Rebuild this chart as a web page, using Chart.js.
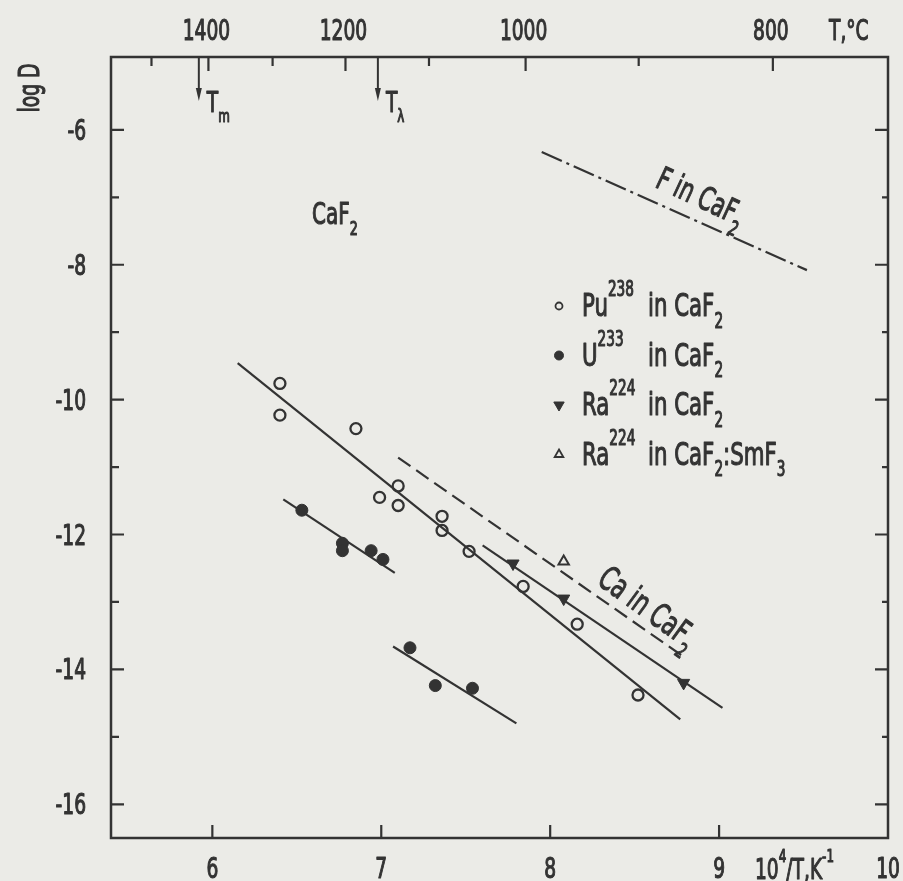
<!DOCTYPE html>
<html>
<head>
<meta charset="utf-8">
<title>Diffusion in CaF2</title>
<script src="https://cdn.jsdelivr.net/npm/chart.js@4.4.0/dist/chart.umd.min.js"></script>
<style>
  html, body { margin: 0; padding: 0; background: #ebebe7; }
  #wrap { width: 903px; height: 881px; }
</style>
</head>
<body>
<div id="wrap"><canvas id="chartLog" width="903" height="881"></canvas></div>
<script>
// x = 10^4/T (K^-1), y = log D
var puX = [6.40, 6.40, 6.85, 7.10, 6.99, 7.10, 7.36, 7.36, 7.52, 7.84, 8.16, 8.52];
var puY = [-9.76, -10.23, -10.43, -11.28, -11.45, -11.57, -11.73, -11.94, -12.25, -12.77, -13.33, -14.38];
var uX = [6.53, 6.77, 6.77, 6.94, 7.01, 7.17, 7.32, 7.54];
var uY = [-11.64, -12.13, -12.24, -12.24, -12.37, -13.68, -14.24, -14.28];
var raX = [7.78, 8.08, 8.79];
var raY = [-12.43, -12.95, -14.20];
var smX = [8.08];
var smY = [-12.40];

// straight lines drawn through the data (end points)
var puFitX = [6.15, 8.77], puFitY = [-9.46, -14.74];
var uHighX = [6.42, 7.08], uHighY = [-11.48, -12.57];
var uLowX = [7.07, 7.80], uLowY = [-13.66, -14.80];
var raFitX = [7.60, 9.02], raFitY = [-12.16, -14.57];
var caFitX = [7.10, 8.80], caFitY = [-10.86, -13.83];
var fFitX = [7.95, 9.52], fFitY = [-6.33, -8.08];

var xTicks = [6, 7, 8, 9, 10];
var yTicks = [-6, -8, -10, -12, -14, -16];
var tempLabels = [1400, 1200, 1000, 800];   // T in deg C, top axis
var tempMinor = [1500, 1300, 1100, 900];
var tMelt = 5.92, tLambda = 6.98;

var ink = '#333333';
var paper = '#ebebe7';
var FONT = '"DejaVu Sans Condensed", "DejaVu Sans", sans-serif';
var SQUEEZE = 0.74;   // the lettering is a narrow DIN face

function pts(xs, ys) {
  return xs.map(function (x, i) { return { x: x, y: ys[i] }; });
}
function fitLine(xs, ys, dash) {
  return { data: pts(xs, ys), showLine: true, borderColor: ink, borderWidth: 2.2,
           borderDash: dash || [], pointRadius: 0, fill: false };
}
function toK(c) { return 1e4 / (c + 273.15); }

// text with sub/superscripts: parts = [[text, 'sup'|'sub'|undefined], ...]
function richWidth(c, parts, size) {
  var w = 0;
  parts.forEach(function (p) {
    c.font = (p[1] ? size * 0.64 : size) + 'px ' + FONT;
    w += c.measureText(p[0]).width;
  });
  return w * SQUEEZE;
}
function rich(c, parts, x, y, size, align) {
  var w = richWidth(c, parts, size);
  var x0 = align === 'center' ? x - w / 2 : (align === 'right' ? x - w : x);
  c.save();
  c.translate(x0, y);
  c.scale(SQUEEZE, 1);
  c.textAlign = 'left';
  c.textBaseline = 'alphabetic';
  c.strokeStyle = c.fillStyle;
  c.lineWidth = 1.1;
  c.lineJoin = 'round';
  var cx = 0;
  parts.forEach(function (p) {
    var s = p[1] ? size * 0.64 : size;
    var dy = p[1] === 'sup' ? -size * 0.62 : (p[1] === 'sub' ? size * 0.36 : 0);
    c.font = s + 'px ' + FONT;
    c.fillText(p[0], cx, dy);
    c.strokeText(p[0], cx, dy);
    cx += c.measureText(p[0]).width;
  });
  c.restore();
}

var decor = {
  id: 'decor',
  beforeDraw: function (chart) {
    var c = chart.ctx;
    c.save();
    c.fillStyle = paper;
    c.fillRect(0, 0, chart.width, chart.height);
    c.restore();
  },
  afterDraw: function (chart) {
    var c = chart.ctx, a = chart.chartArea;
    var sx = chart.scales.x, sy = chart.scales.y, st = chart.scales.xTop;
    c.save();
    c.strokeStyle = ink;
    c.fillStyle = ink;
    c.lineWidth = 2.5;
    c.strokeRect(a.left, a.top, a.right - a.left, a.bottom - a.top);

    // inward tick marks
    c.lineWidth = 2.2;
    c.beginPath();
    sx.ticks.forEach(function (t) {
      if (t.value >= 10) return;
      var px = sx.getPixelForValue(t.value);
      c.moveTo(px, a.bottom); c.lineTo(px, a.bottom - 13);
    });
    st.ticks.forEach(function (t) {
      var px = st.getPixelForValue(t.value);
      c.moveTo(px, a.top); c.lineTo(px, a.top + 14);
    });
    tempMinor.forEach(function (t) {
      var px = st.getPixelForValue(toK(t));
      c.moveTo(px, a.top); c.lineTo(px, a.top + 9);
    });
    for (var v = -16; v <= -6; v++) {
      var py = sy.getPixelForValue(v);
      var major = v % 2 === 0;
      c.moveTo(a.left, py); c.lineTo(a.left + (major ? 13 : 8), py);
      c.moveTo(a.right, py); c.lineTo(a.right - (major ? 13 : 6), py);
    }
    c.stroke();

    // tick labels, placed from the scales
    sx.ticks.forEach(function (t) {
      rich(c, [[String(t.value)]], sx.getPixelForValue(t.value), a.bottom + 40, 28, 'center');
    });
    st.ticks.forEach(function (t) {
      rich(c, [[String(Math.round(1e4 / t.value - 273.15))]], st.getPixelForValue(t.value) - 2, a.top - 17, 28, 'center');
    });
    sy.ticks.forEach(function (t) {
      rich(c, [[String(t.value)]], a.left - 25, sy.getPixelForValue(t.value) + 10, 28, 'right');
    });

    // T_m and T_lambda arrows
    c.lineWidth = 2;
    [[tMelt, 'm'], [tLambda, '\u03bb']].forEach(function (m) {
      var px = st.getPixelForValue(m[0]);
      c.beginPath();
      c.moveTo(px, a.top); c.lineTo(px, a.top + 34);
      c.stroke();
      c.beginPath();
      c.moveTo(px - 3, a.top + 31); c.lineTo(px + 3, a.top + 31); c.lineTo(px, a.top + 44);
      c.closePath();
      c.fill();
      rich(c, [['T'], [m[1], 'sub']], px + 8, a.top + 55, 28);
    });

    // axis captions
    rich(c, [['T,\u00b0C']], 829, 40, 28);
    rich(c, [['10'], ['4', 'sup'], ['/T,K'], ['-1', 'sup']], 755, 879, 28);
    c.save();
    c.translate(39, 88);
    c.rotate(-Math.PI / 2);
    rich(c, [['log D']], 0, 0, 28, 'center');
    c.restore();

    // labels in the plot
    rich(c, [['CaF'], ['2', 'sub']], sx.getPixelForValue(6.59), sy.getPixelForValue(-7.40), 30);
    c.save();
    c.translate(sx.getPixelForValue(8.615), sy.getPixelForValue(-6.84));
    c.rotate(25 * Math.PI / 180);
    rich(c, [['F in CaF'], ['2', 'sub']], 0, 0, 32);
    c.restore();
    c.save();
    c.translate(sx.getPixelForValue(8.27), sy.getPixelForValue(-12.72));
    c.rotate(36 * Math.PI / 180);
    rich(c, [['Ca in CaF'], ['2', 'sub']], 0, 0, 33);
    c.restore();

    // legend
    var entries = [
      [{ pointStyle: 'circle', radius: 3.5, borderWidth: 1.8 }, true, [['Pu'], ['238', 'sup']], [['in CaF'], ['2', 'sub']]],
      [{ pointStyle: 'circle', radius: 4.5, borderWidth: 1 }, false, [['U'], ['233', 'sup']], [['in CaF'], ['2', 'sub']]],
      [{ pointStyle: 'triangle', radius: 6, rotation: 180, borderWidth: 1 }, false, [['Ra'], ['224', 'sup']], [['in CaF'], ['2', 'sub']]],
      [{ pointStyle: 'triangle', radius: 5, borderWidth: 1.8 }, true, [['Ra'], ['224', 'sup']], [['in CaF'], ['2', 'sub'], [':SmF'], ['3', 'sub']]]
    ];
    entries.forEach(function (e, i) {
      var my = 306 + i * 49.5;
      c.fillStyle = e[1] ? paper : ink;
      c.strokeStyle = ink;
      c.lineWidth = e[0].borderWidth;
      Chart.helpers.drawPoint(c, e[0], 559, my);
      c.fillStyle = ink;
      rich(c, e[2], 582, my + 10, 32);
      rich(c, e[3], 648, my + 10, 32);
    });
    c.restore();
  }
};

var ctx = document.getElementById('chartLog').getContext('2d');
var chartLog = new Chart(ctx, {
  type: 'scatter',
  data: {
    datasets: [
      fitLine(puFitX, puFitY),
      fitLine(uHighX, uHighY),
      fitLine(uLowX, uLowY),
      fitLine(raFitX, raFitY),
      fitLine(caFitX, caFitY, [15, 7]),
      fitLine(fFitX, fFitY, [22, 5, 3, 5]),
      { label: 'Pu-238 in CaF2', data: pts(puX, puY), pointStyle: 'circle', pointRadius: 5.5,
        pointBorderWidth: 2.3, pointBorderColor: ink, pointBackgroundColor: paper },
      { label: 'U-233 in CaF2', data: pts(uX, uY), pointStyle: 'circle', pointRadius: 6,
        pointBorderWidth: 1, pointBorderColor: ink, pointBackgroundColor: ink },
      { label: 'Ra-224 in CaF2', data: pts(raX, raY), pointStyle: 'triangle', pointRotation: 180,
        pointRadius: 7, pointBorderWidth: 1, pointBorderColor: ink, pointBackgroundColor: ink },
      { label: 'Ra-224 in CaF2:SmF3', data: pts(smX, smY), pointStyle: 'triangle', pointRadius: 6,
        pointBorderWidth: 2, pointBorderColor: ink, pointBackgroundColor: paper }
    ]
  },
  options: {
    responsive: false,
    animation: false,
    events: [],
    layout: { padding: { left: 0, right: 15, top: 0, bottom: 0 } },
    plugins: { legend: { display: false }, tooltip: { enabled: false } },
    scales: {
      x: {
        type: 'linear', position: 'bottom', min: 5.4, max: 10,
        afterBuildTicks: function (axis) { axis.ticks = xTicks.map(function (v) { return { value: v }; }); },
        afterFit: function (axis) { axis.height = 43; },
        grid: { display: false, drawTicks: false }, border: { display: false },
        ticks: { display: false }
      },
      xTop: {
        type: 'linear', position: 'top', min: 5.4, max: 10,
        afterBuildTicks: function (axis) { axis.ticks = tempLabels.map(function (t) { return { value: toK(t) }; }); },
        afterFit: function (axis) { axis.height = 57; },
        grid: { display: false, drawTicks: false }, border: { display: false },
        ticks: { display: false }
      },
      y: {
        type: 'linear', position: 'left', min: -16.5, max: -4.92,
        afterBuildTicks: function (axis) { axis.ticks = yTicks.map(function (v) { return { value: v }; }); },
        afterFit: function (axis) { axis.width = 111; },
        grid: { display: false, drawTicks: false }, border: { display: false },
        ticks: { display: false }
      }
    }
  },
  plugins: [decor]
});
</script>
</body>
</html>
